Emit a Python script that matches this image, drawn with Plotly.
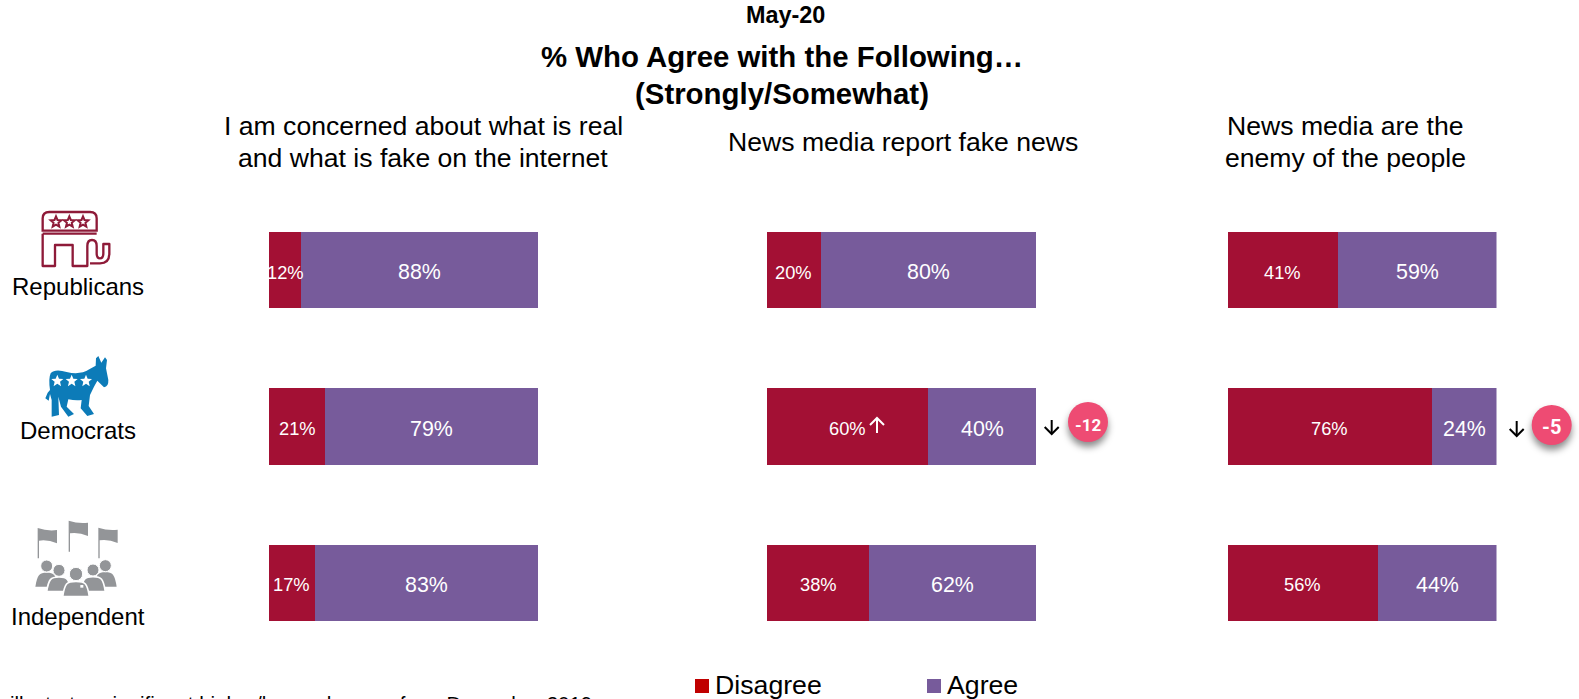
import base64
import math
import plotly.graph_objects as go

W, H = 1579, 699

# Survey results, in percent
parties = ["Republicans", "Democrats", "Independent"]
questions = [
    "I am concerned about what is real<br>and what is fake on the internet",
    "News media report fake news",
    "News media are the<br>enemy of the people",
]
disagree_real_fake = [12, 21, 17]
agree_real_fake = [88, 79, 83]
disagree_fake_news = [20, 60, 38]
agree_fake_news = [80, 40, 62]
disagree_enemy = [41, 76, 56]
agree_enemy = [59, 24, 44]

RED = "#A31034"
PURPLE = "#775B9B"
SWATCH_RED = "#C00000"
BADGE = "#EE4B73"
FONT = "Liberation Sans"


def px(x):
    return x / W


def py(y):
    return 1 - y / H


fig = go.Figure()
annotations = []

panels = [
    (269, 538, disagree_real_fake, agree_real_fake),
    (767, 1036, disagree_fake_news, agree_fake_news),
    (1227.5, 1496.5, disagree_enemy, agree_enemy),
]
layout_axes = {}
for i, (left, right, disagree, agree) in enumerate(panels, start=1):
    suffix = "" if i == 1 else str(i)
    for name, values, color in (("Disagree", disagree, RED), ("Agree", agree, PURPLE)):
        fig.add_trace(go.Bar(
            y=parties, x=values, name=name, orientation="h",
            xaxis="x" + suffix, yaxis="y" + suffix,
            marker=dict(color=color, line=dict(width=0)),
            showlegend=False, hoverinfo="skip",
        ))
    # Value labels sit at each segment's midpoint, a little below the bar centre
    for party, d, a in zip(parties, disagree, agree):
        for mid, value, size in ((d / 2, d, 18.3), (d + a / 2, a, 21.4)):
            annotations.append(dict(
                x=mid, y=party, xref="x" + suffix, yref="y" + suffix, text=f"{value}%",
                showarrow=False, xanchor="center", yanchor="middle", yshift=-2,
                font=dict(family=FONT, size=size, color="white")))
    layout_axes["xaxis" + suffix] = dict(
        domain=[px(left), px(right)], range=[0, 100], visible=False,
        anchor="y" + suffix, fixedrange=True)
    layout_axes["yaxis" + suffix] = dict(
        domain=[py(661), py(192)], range=[2.5, -0.5], type="category",
        categoryorder="array", categoryarray=parties, visible=False,
        anchor="x" + suffix, fixedrange=True)


def text(x, y, s, size, bold=False, color="black", anchor="center", family=FONT, yanchor="middle"):
    annotations.append(dict(
        x=px(x), y=py(y), xref="paper", yref="paper", text=f"<b>{s}</b>" if bold else s,
        showarrow=False, xanchor=anchor, yanchor=yanchor, align="center",
        borderpad=0, borderwidth=0,
        font=dict(family=family, size=size, color=color)))


text(785, 15, "May-20", 23.4, bold=True)
text(781.5, 57, "% Who Agree with the Following…", 29.4, bold=True)
text(781.5, 93, "(Strongly/Somewhat)", 29.4, bold=True)

header_centers = [423, 903, 1345]
for center, q in zip(header_centers, questions):
    lines = q.split("<br>")
    rows = [142] if len(lines) == 1 else [126, 158]
    for y, line in zip(rows, lines):
        text(center, y, line, 26.6)

for name, y in zip(parties, [287, 430, 616]):
    text(78, y, name, 24)

text(715, 685, "Disagree", 26.7, anchor="left")
text(947, 685, "Agree", 26.7, anchor="left")
text(10, 692, "illustrates significant higher/lower changes from December 2019", 20.5,
     anchor="left", yanchor="top")

text(1088, 425, "-12", 17, bold=True, color="white", family="Roboto")
text(1551.7, 427, "-5", 20, bold=True, color="white", family="Roboto")

shapes = []
for x0, color in ((695, SWATCH_RED), (927, PURPLE)):
    shapes.append(dict(type="rect", xref="paper", yref="paper", x0=px(x0), x1=px(x0 + 14),
                       y0=py(693), y1=py(679), fillcolor=color, line_width=0))


def arrow(x, top, bottom, color, up):
    """Open-headed change marker drawn as a stem and a chevron."""
    tip, tail = (top, bottom) if up else (bottom, top)
    barb = tip + 7 if up else tip - 7
    for pts in ([(x, tail), (x, tip)], [(x - 7, barb), (x, tip), (x + 7, barb)]):
        path = "M" + " L".join(f"{px(a):.5f},{py(b):.5f}" for a, b in pts)
        shapes.append(dict(type="path", xref="paper", yref="paper", path=path,
                           line=dict(color=color, width=2), layer="above"))


arrow(877, 418, 433, "white", True)
arrow(1051.7, 420, 434, "black", False)
arrow(1516.7, 421, 436, "black", False)


def svg_uri(width, height, viewbox, body):
    svg = (f'<svg xmlns="http://www.w3.org/2000/svg" width="{width}" height="{height}" '
           f'viewBox="{viewbox}">{body}</svg>')
    return "data:image/svg+xml;base64," + base64.b64encode(svg.encode()).decode()


def star(cx, cy, r, fill, stroke="none"):
    pts = []
    for k in range(10):
        rad = r if k % 2 == 0 else r * 0.45
        ang = -math.pi / 2 + k * math.pi / 5
        pts.append(f"{cx + rad * math.cos(ang):.1f},{cy + rad * math.sin(ang):.1f}")
    return f'<polygon points="{" ".join(pts)}" fill="{fill}" stroke="{stroke}" stroke-width="6"/>'


# Party icons are drawn on a 3x grid, then placed at their pixel box
MAROON = "#8E1A38"
elephant = (
    f'<path d="M128,122 V85 Q128,66 148,66 H270 Q290,66 290,85 V122 Z" fill="none" stroke="{MAROON}" stroke-width="7"/>'
    f'<path d="M128,131 H290 M128,131 V228 H165 V165 H218 V228 H262 V168 Q262,150 276,150 Q290,150 290,168 '
    f'V190 Q290,205 300,205 Q310,205 310,190 V162 H328 V190 Q328,220 300,220 H270" fill="none" stroke="{MAROON}" stroke-width="7" stroke-linejoin="round"/>'
    + star(168, 96, 17, "none", MAROON) + star(208, 96, 17, "none", MAROON) + star(249, 96, 17, "none", MAROON)
)
BLUE = "#0C7BB8"
donkey = (
    f'<path fill="{BLUE}" d="M150,600 Q145,565 152,550 Q165,535 200,546 Q240,556 268,538 L287,527 L288,505 L295,498 '
    'L304,518 L315,502 L321,510 L318,535 L325,570 Q326,590 312,592 L292,572 L282,590 L270,615 L266,648 L282,672 '
    'L262,678 L242,655 L245,630 Q225,632 205,628 L200,650 L222,672 L205,680 L183,650 L175,620 L177,675 L155,680 '
    'L155,630 L150,612 L146,632 L136,625 L143,608 Z"/>'
    + star(172, 573, 19, "white") + star(215, 573, 19, "white") + star(258, 573, 19, "white")
)
image_specs = [svg_uri(300, 250, "0 0 900 750", elephant + donkey)]

GRAY = "#939598"


def flag(x, top, bottom):
    return (f'<path fill="{GRAY}" d="M{x},{top} V{bottom} H{x + 4} V{top + 38} Q{x + 30},{top + 34} {x + 58},{top + 46} '
            f'V{top + 6} Q{x + 30},{top + 10} {x},{top} Z"/>')


def person(cx, head_y, r, base, half, ring=True):
    stroke = 'stroke="white" stroke-width="5"' if ring else ""
    top = head_y + r + 2
    return (f'<path fill="{GRAY}" {stroke} d="M{cx - half},{base} C{cx - half + 6},{top + 6} {cx - half + 12},{top} {cx},{top} '
            f'C{cx + half - 12},{top} {cx + half - 6},{top + 6} {cx + half},{base} Z"/>'
            f'<circle cx="{cx}" cy="{head_y}" r="{r}" fill="{GRAY}" stroke="white" stroke-width="3"/>')


crowd = (
    flag(113, 84, 175) + flag(206, 62, 155) + flag(295, 83, 175)
    + person(140, 198, 18, 260, 34, False) + person(316, 197, 18, 260, 34, False)
    + person(177, 211, 18, 275, 37) + person(279, 210, 18, 275, 37)
    + person(228, 222, 20, 290, 40)
    + '<rect x="241" y="255" width="9" height="8" fill="white"/>'
)
image_specs.append(svg_uri(300, 199, "0 0 900 597", crowd))


def badge(r, color):
    return (
        '<defs><filter id="s" x="-50%" y="-50%" width="200%" height="200%">'
        '<feGaussianBlur stdDeviation="3.5"/></filter></defs>'
        f'<circle cx="40" cy="45" r="{r}" fill="#000" fill-opacity="0.45" filter="url(#s)"/>'
        f'<circle cx="40" cy="40" r="{r}" fill="{color}"/>'
    )


badge_uri = svg_uri(80, 80, "0 0 80 80", badge(20, BADGE))

images = [
    dict(source=image_specs[0], xref="paper", yref="paper", x=px(0), y=py(190), sizex=px(300), sizey=250 / H,
         xanchor="left", yanchor="top", sizing="stretch", layer="below"),
    dict(source=image_specs[1], xref="paper", yref="paper", x=px(0), y=py(500), sizex=px(300), sizey=199 / H,
         xanchor="left", yanchor="top", sizing="stretch", layer="below"),
    dict(source=badge_uri, xref="paper", yref="paper", x=px(1088 - 40), y=py(422 - 40), sizex=px(80), sizey=80 / H,
         xanchor="left", yanchor="top", sizing="stretch", layer="below"),
    dict(source=badge_uri, xref="paper", yref="paper", x=px(1551.7 - 40), y=py(425 - 40), sizex=px(80), sizey=80 / H,
         xanchor="left", yanchor="top", sizing="stretch", layer="below"),
]

fig.update_layout(
    width=W, height=H, autosize=False,
    margin=dict(l=0, r=0, t=0, b=0, pad=0),
    paper_bgcolor="white", plot_bgcolor="rgba(0,0,0,0)",
    barmode="stack", bargap=0.511,
    annotations=annotations, shapes=shapes, images=images,
    **layout_axes,
)
fig.write_html("out.html", config=dict(displayModeBar=False))
